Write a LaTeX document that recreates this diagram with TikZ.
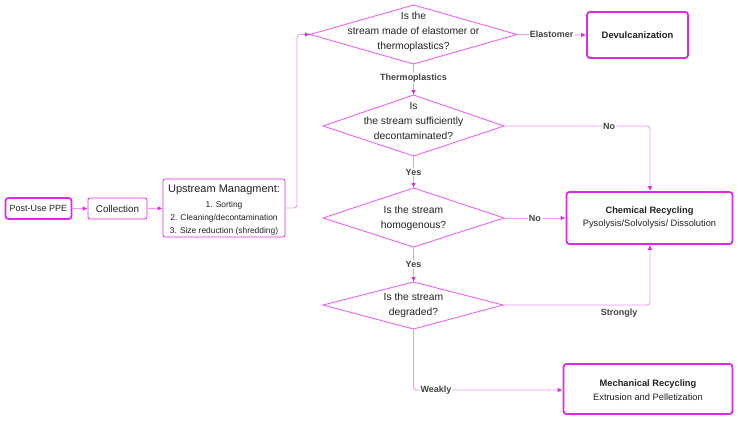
\documentclass[tikz,border=0pt]{standalone}
\usepackage{fontspec}
\setmainfont{Liberation Sans}
\usetikzlibrary{shapes.geometric,arrows.meta}
\definecolor{thick}{RGB}{222,40,230}
\definecolor{dline}{RGB}{236,100,245}
\definecolor{cline}{RGB}{240,150,248}
\definecolor{txt}{RGB}{34,34,34}
\tikzset{
  box/.style={draw=thick, line width=0.8pt, rounded corners=2pt, text=txt, font=\fontsize{9.8}{11}\selectfont, align=center, inner sep=0pt},
  bigbox/.style={draw=thick, line width=1.8pt, rounded corners=3pt, text=txt, align=center, inner sep=0pt},
  dia/.style={draw=dline, line width=0.9pt},
  dtext/.style={text=txt, align=center, font=\fontsize{10.3}{15}\selectfont},
  conn/.style={draw=cline, line width=0.9pt, rounded corners=3pt, -{Latex[length=5pt,width=4.5pt,color=thick]}},
  lab/.style={font=\bfseries\fontsize{9}{10}\selectfont, text=txt!85, fill=white, inner sep=1pt},
}
\begin{document}
\begin{tikzpicture}[x=1pt,y=-1pt]
\useasboundingbox[fill=white] (0,0) rectangle (738,420);
% boxes
\node[bigbox, minimum width=66pt, minimum height=21pt, font=\fontsize{9}{11}\selectfont] (ppe) at (38.5,208.5) {Post-Use PPE};
\node[box, minimum width=59pt, minimum height=21pt] (col) at (117.5,208.5) {Collection};
\node[box, minimum width=122pt, minimum height=58pt] (up) at (224,208) {};
\node[text=txt, align=center, font=\fontsize{11}{12}\selectfont] (upt) at (224,190) {Upstream Managment:};
\node[text=txt, align=center, font=\fontsize{8.4}{13}\selectfont] (upl) at (224,218) {1. Sorting\\2. Cleaning/decontamination\\3. Size reduction (shredding)};
% diamonds
\path[dia] (310,34.5) -- (413.5,5) -- (517,34.5) -- (413.5,64) -- cycle;
\node[dtext] (d1) at (413.5,32) {Is the\\stream made of elastomer or\\thermoplastics?};
\coordinate (d1l) at (310,34.5); \coordinate (d1r) at (517,34.5); \coordinate (d1t) at (413.5,5); \coordinate (d1b) at (413.5,64);
\path[dia] (323,126) -- (413.5,95) -- (504,126) -- (413.5,156) -- cycle;
\node[dtext] (d2) at (413.5,121) {Is\\the stream sufficiently\\decontaminated?};
\coordinate (d2r) at (504,126); \coordinate (d2t) at (413.5,95); \coordinate (d2b) at (413.5,156);
\path[dia] (323,218) -- (413.5,188) -- (504,218) -- (413.5,247) -- cycle;
\node[dtext] (d3) at (413.5,218.5) {Is the stream\\homogenous?};
\coordinate (d3r) at (504,218); \coordinate (d3t) at (413.5,188); \coordinate (d3b) at (413.5,247);
\path[dia] (323,305) -- (413.5,282) -- (503,305) -- (413.5,329) -- cycle;
\node[dtext] (d4) at (413.5,305.5) {Is the stream\\degraded?};
\coordinate (d4r) at (503,305); \coordinate (d4t) at (413.5,282); \coordinate (d4b) at (413.5,329);
% outcomes
\node[bigbox, minimum width=101pt, minimum height=46pt, font=\bfseries\fontsize{9.4}{10}\selectfont] (dev) at (637.5,35) {Devulcanization};
\node[bigbox, minimum width=166pt, minimum height=52pt] (chem) at (649.5,218) {};
\node[text=txt, align=center, font=\fontsize{9.3}{13}\selectfont] (chemt) at (649.5,218) {\textbf{Chemical Recycling}\\Pysolysis/Solvolysis/ Dissolution};
\node[bigbox, minimum width=169pt, minimum height=50pt] (mech) at (648,389) {};
\node[text=txt, align=center, font=\fontsize{9.3}{14}\selectfont] (mecht) at (648,390) {\textbf{Mechanical Recycling}\\Extrusion and Pelletization};
% connectors
\draw[conn] (ppe) -- (col);
\draw[conn] (col) -- (up);
\draw[conn] (up.east) -- (297,208) -- (297,34.5) -- (d1l);
\draw[conn] (d1r) -- (dev.west) node[lab, pos=0.5] {Elastomer};
\draw[conn] (d1b) -- (d2t) node[lab, pos=0.45] {Thermoplastics};
\draw[conn] (d2r) -- (650,126) node[lab, pos=0.72] {No} -- (chem.north -| 650,0);
\draw[conn] (d2b) -- (d3t) node[lab, pos=0.5] {Yes};
\draw[conn] (d3r) -- (chem.west |- d3r) node[lab, pos=0.5] {No};
\draw[conn] (d3b) -- (d4t) node[lab, pos=0.5] {Yes};
\draw[conn] (d4r) -- (650,305) -- (chem.south -| 650,0);
\node[lab, fill=none] (strong) at (619,313) {Strongly};
\draw[conn] (d4b) -- (413.5,390) -- (mech.west |- 0,390);
\node[lab] (weak) at (436,390) {Weakly};
\end{tikzpicture}
\end{document}
